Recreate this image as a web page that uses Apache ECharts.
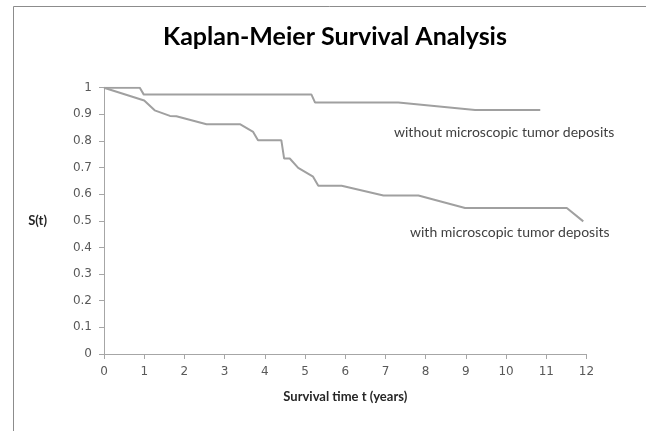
<!DOCTYPE html>
<html>
<head>
<meta charset="utf-8">
<script src="https://cdn.jsdelivr.net/npm/echarts@6/dist/echarts.min.js"></script>
<style>
  html, body { margin: 0; padding: 0; background: #fff; overflow: hidden; }
</style>
</head>
<body>
<div id="main" style="width: 646px; height: 431px"></div>
<script>
// survival time (years) and S(t)
var withoutT = [0, 0.89, 0.99, 5.16, 5.25, 7.32, 9.23, 10.85]
var withoutS = [1, 1, 0.974, 0.974, 0.944, 0.944, 0.916, 0.916]

var withT = [0, 1.0, 1.26, 1.64, 1.80, 2.55, 3.38, 3.71, 3.83, 4.41, 4.48, 4.62, 4.83, 5.20, 5.33, 5.91, 6.95, 7.82, 8.98, 11.51, 11.92]
var withS = [1, 0.952, 0.915, 0.894, 0.893, 0.863, 0.863, 0.834, 0.803, 0.803, 0.734, 0.734, 0.699, 0.666, 0.632, 0.632, 0.595, 0.595, 0.548, 0.548, 0.498]

var labelWithout = 'without microscopic tumor deposits'
var labelWith = 'with microscopic tumor deposits'

function pairs(xs, ys) {
  return xs.map(function (x, i) { return [x, ys[i]] })
}

var myChart = echarts.init(document.getElementById('main'))
var axisGrey = '#a6a6a6'
var lineGrey = '#a0a0a0'

var option = {
  animation: false,
  backgroundColor: '#fff',
  title: {
    text: 'Kaplan-Meier Survival Analysis',
    left: 330,
    top: 19,
    textAlign: 'center',
    textStyle: { fontFamily: 'Lato', fontWeight: 'bold', fontSize: 25, color: '#000' }
  },
  grid: { left: 104, top: 87.7, right: 59.5, bottom: 77 },
  xAxis: {
    type: 'value',
    min: 0, max: 12, interval: 1,
    name: 'Survival time t (years)',
    nameLocation: 'middle',
    nameGap: 36,
    nameTextStyle: { fontFamily: 'Lato', fontWeight: 'bold', fontSize: 13, color: '#262626' },
    axisLine: { onZero: false, lineStyle: { color: axisGrey, width: 1 } },
    axisTick: { show: true, length: 5, lineStyle: { color: axisGrey } },
    axisLabel: { margin: 12, fontFamily: 'DejaVu Sans', fontSize: 12, color: '#595959' },
    splitLine: { show: false }
  },
  yAxis: {
    type: 'value',
    min: 0, max: 1, interval: 0.1,
    name: 'S(t)',
    nameLocation: 'middle',
    nameRotate: 0,
    nameGap: 57,
    nameTextStyle: { fontFamily: 'Lato', fontWeight: 'bold', fontSize: 13, color: '#262626' },
    axisLine: { show: true, lineStyle: { color: axisGrey, width: 1 } },
    axisTick: { show: true, length: 5, lineStyle: { color: axisGrey } },
    axisLabel: { margin: 12, fontFamily: 'DejaVu Sans', fontSize: 12, color: '#595959' },
    splitLine: { show: false }
  },
  graphic: [
    // chart frame, only top and left edges are inside the crop
    { type: 'line', shape: { x1: 13.5, y1: 6.5, x2: 646, y2: 6.5 }, style: { stroke: '#8c8c8c', lineWidth: 1 }, silent: true },
    { type: 'line', shape: { x1: 13.5, y1: 6.5, x2: 13.5, y2: 431 }, style: { stroke: '#8c8c8c', lineWidth: 1 }, silent: true },
    { type: 'text', left: 394, top: 125, style: { text: labelWithout, fontFamily: 'Lato', fontSize: 14, fill: '#404040' } },
    { type: 'text', left: 410, top: 225, style: { text: labelWith, fontFamily: 'Lato', fontSize: 14, fill: '#404040' } }
  ],
  series: [
    {
      name: labelWithout,
      type: 'line',
      showSymbol: false,
      lineStyle: { color: lineGrey, width: 2 },
      data: pairs(withoutT, withoutS)
    },
    {
      name: labelWith,
      type: 'line',
      showSymbol: false,
      lineStyle: { color: lineGrey, width: 2 },
      data: pairs(withT, withS)
    }
  ]
}
myChart.setOption(option)
</script>
</body>
</html>
